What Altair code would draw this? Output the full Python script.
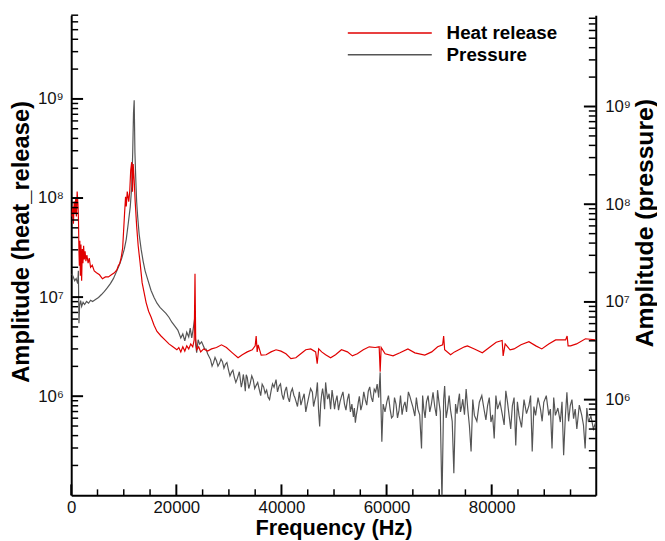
import altair as alt
import pandas as pd

# ---------------- data ----------------
HR_FREQ = [100, 280, 420, 570, 720, 850, 980, 1130, 1280, 1380, 1470, 1550, 1640, 1740, 1850, 1980,
           2110, 2230, 2360, 2490, 2640, 2790, 2980, 3210, 3430, 3680, 4000, 4380, 4810, 5380, 5940,
           6510, 7080, 7640, 8210, 8680, 8960, 9250, 9530, 9780, 9960, 10150, 10340, 10470, 10660,
           10940, 11130, 11320, 11510, 11660, 11790, 11980, 12170, 12450, 12740, 13110, 13490, 13870,
           14250, 14720, 15190, 15760, 16320, 17080, 17830, 18590, 19340, 20100, 20470, 20850, 21230,
           21610, 21980, 22360, 22740, 23120, 23400, 23550, 23680, 23870, 24250, 24630, 25190, 25950,
           26700, 27640, 28590, 29530, 30660, 31740, 32550, 33490, 34440, 35000, 35190, 35380, 35570,
           36140, 37080, 38020, 38970, 39910, 40850, 41800, 42740, 43680, 44630, 45570, 46510, 46800,
           47080, 47650, 48400, 49350, 50290, 51420, 52550, 53500, 54440, 55570, 56700, 57840, 58590,
           58780, 58970, 59720, 61230, 62550, 64060, 65380, 67270, 68590, 69720, 70670, 70860, 71050,
           72180, 72930, 74820, 75390, 76710, 78220, 79540, 80860, 81990, 82180, 82560, 83500, 84250,
           85570, 87080, 88400, 89530, 90850, 92170, 94060, 94350, 94540, 95010, 96140, 97840, 99730]
HR_AMP = [6.5e7, 8.2e7, 5.5e7, 9.2e7, 7.0e7, 9.8e7, 6.5e7, 1.16e8, 8.6e7, 6.1e7, 2.9e7, 2.07e7, 3.7e7,
          1.64e7, 3.4e7, 1.46e7, 3.05e7, 2.2e7, 3.3e7, 2.4e7, 2.9e7, 2.3e7, 2.66e7, 2.2e7, 2.48e7, 2.0e7,
          2.1e7, 1.84e7, 1.76e7, 1.68e7, 1.53e7, 1.6e7, 1.6e7, 1.68e7, 1.76e7, 1.88e7, 2.07e7, 2.2e7,
          2.54e7, 3.1e7, 4.6e7, 7.0e7, 1.03e8, 8.2e7, 1.16e8, 9.2e7, 1.16e8, 1.91e8, 2.3e8, 1.16e8,
          2.2e8, 1.52e8, 9.2e7, 5.2e7, 3.3e7, 2.2e7, 1.4e7, 1.11e7, 8.8e6, 7.2e6, 6.3e6, 5.2e6, 4.5e6,
          4.05e6, 3.7e6, 3.37e6, 3.15e6, 2.94e6, 3.1e6, 2.8e6, 3.15e6, 2.85e6, 3.22e6, 3.0e6, 3.37e6,
          3.15e6, 3.7e6, 1.72e7, 3.85e6, 2.94e6, 3.15e6, 2.8e6, 3.0e6, 2.85e6, 3.0e6, 3.1e6, 3.3e6,
          3.1e6, 2.74e6, 2.44e6, 2.62e6, 2.8e6, 2.94e6, 3.22e6, 4.05e6, 2.8e6, 3.3e6, 2.6e6, 2.62e6,
          2.8e6, 2.94e6, 2.85e6, 2.68e6, 2.39e6, 2.44e6, 2.68e6, 2.94e6, 3.0e6, 2.8e6, 2.13e6, 3.0e6,
          2.8e6, 2.62e6, 2.44e6, 2.62e6, 2.94e6, 2.8e6, 2.55e6, 2.68e6, 2.94e6, 3.15e6, 3.1e6, 3.15e6,
          1.77e6, 3.1e6, 2.68e6, 2.55e6, 2.74e6, 3.0e6, 2.74e6, 2.6e6, 2.8e6, 3.15e6, 3.3e6, 4.05e6,
          2.94e6, 2.62e6, 2.8e6, 3.15e6, 3.22e6, 3.0e6, 2.74e6, 3.1e6, 3.5e6, 3.65e6, 2.55e6, 3.37e6,
          2.94e6, 3.0e6, 3.3e6, 3.55e6, 3.22e6, 3.0e6, 3.37e6, 3.7e6, 3.7e6, 4.05e6, 3.22e6, 3.22e6,
          3.37e6, 3.8e6, 3.7e6]

P_FREQ = [100, 380, 660, 940, 1230, 1360, 1470, 1600, 1790, 1980, 2260, 2550, 2920, 3300, 3680, 4060,
          4620, 5190, 5760, 6320, 6890, 7450, 8020, 8590, 9150, 9620, 10100, 10470, 10850, 11230, 11510,
          11700, 11850, 11980, 12120, 12270, 12450, 12640, 12930, 13300, 13680, 14060, 14620, 15190,
          15760, 16320, 16890, 17450, 18020, 18590, 19150, 19720, 20280, 20850, 21230, 21610, 21980,
          22360, 22640, 22930, 23210, 23490, 23680, 23870, 24150, 24440, 24810, 25380, 25950, 26510,
          27080, 27640, 28210, 28780, 29340, 29910, 30480, 31040, 31610, 31990, 32360, 32740, 33120,
          33490, 34060, 34630, 35190, 35760, 36330, 36890, 37460, 38020, 38590, 38970, 39530, 40100,
          40660, 41230, 41800, 42360, 42740, 44000, 44630, 45190, 45890, 46330, 46840, 47270, 47650,
          48020, 48400, 48780, 49350, 49910, 50290, 50860, 51420, 51990, 52550, 53120, 53690, 54060,
          54440, 54820, 55380, 55950, 56520, 57080, 57650, 58210, 58780, 59100, 59350, 60050, 60670,
          61230, 61800, 62370, 63500, 64440, 65010, 65380, 65950, 66650, 67080, 67590, 68220, 68840,
          69480, 69910, 70540, 70860, 71050, 71610, 72180, 72800, 73120, 73690, 74060, 74500, 75140,
          75760, 76080, 76710, 77650, 78590, 79220, 79860, 80480, 81110, 82050, 82690, 83310, 83940,
          84580, 85200, 86150, 87080, 87710, 88350, 89290, 89910, 90860, 91480, 92120, 93060, 93690,
          94310, 94950, 95580, 96200, 97140, 97780, 98410, 99350, 99820]
P_AMP = [1.94e7, 1.81e7, 1.65e7, 1.73e7, 1.54e7, 2.08e7, 6.06e6, 9.2e6, 1.03e7, 9.0e6, 9.9e6, 9.4e6,
         1.01e7, 9.7e6, 1.04e7, 1.01e7, 1.06e7, 1.11e7, 1.19e7, 1.28e7, 1.4e7, 1.54e7, 1.73e7, 2.03e7,
         2.39e7, 2.81e7, 3.47e7, 4.37e7, 6.35e7, 9.4e7, 1.5e8, 3.4e8, 8.6e8, 1.16e9, 3.4e8, 1.9e8,
         1.06e8, 7.5e7, 4.9e7, 3.47e7, 2.62e7, 2.08e7, 1.65e7, 1.31e7, 1.11e7, 9.7e6, 8.8e6, 8.2e6,
         7.65e6, 6.97e6, 6.2e6, 5.66e6, 5.15e6, 4.28e6, 4.7e6, 3.99e6, 4.9e6, 4.38e6, 5.4e6, 4.28e6,
         5.3e6, 6.8e6, 3.64e6, 3.02e6, 4.1e6, 3.7e6, 3.9e6, 3.31e6, 2.95e6, 2.57e6, 2.39e6, 2.5e6,
         2.35e6, 2.45e6, 2.3e6, 2.03e6, 1.9e6, 1.69e6, 1.65e6, 1.93e6, 1.34e6, 1.81e6, 1.22e6, 1.69e6,
         1.47e6, 1.6e6, 1.4e6, 1.28e6, 1.44e6, 1.16e6, 1.06e6, 1.22e6, 1.34e6, 1.6e6, 1.37e6, 1.13e6,
         1.22e6, 1.06e6, 1.19e6, 1.11e6, 9.7e5, 1.01e6, 7.5e5, 1.06e6, 1.19e6, 9.7e5, 1.5e6, 5.3e5,
         1.13e6, 1.08e6, 1.5e6, 1.01e6, 8.0e5, 9.7e5, 9.5e5, 7.8e5, 1.08e6, 9.0e5, 1.0e6, 7.5e5,
         6.65e5, 5.8e5, 8.0e5, 1.08e6, 9.0e5, 1.0e6, 1.22e6, 1.06e6, 1.28e6, 1.44e6, 1.9e6, 3.7e5,
         9.0e5, 9.5e5, 8.0e5, 6.8e5, 9.0e5, 7.8e5, 9.5e5, 1.08e6, 8.4e5, 6.8e5, 8.0e5, 3.16e5, 8.0e5,
         9.5e5, 7.5e5, 1.19e6, 6.8e5, 1.0e6, 9.0e4, 1.0e6, 1.38e6, 8.0e5, 7.8e5, 1.77e5, 9.0e5, 1.0e6,
         7.5e5, 1.01e6, 1.28e6, 5.4e5, 2.95e5, 6.9e5, 9.4e5, 7.7e5, 8.7e5, 5.9e5, 4.0e5, 8.0e5, 6.9e5,
         1.23e6, 6.9e5, 8.7e5, 3.4e5, 6.9e5, 1.0e6, 8.7e5, 2.95e5, 6.9e5, 8.0e5, 9.4e5, 6.9e5, 3.16e5,
         6.9e5, 5.9e5, 2.7e5, 1.19e6, 8.7e5, 6.4e5, 5.0e5, 6.9e5, 3.16e5, 5.9e5, 5.0e5, 5.9e5]

# finer wiggles of the pressure spectrum, read between the points above
P_FREQ_FINE = [25650, 26800, 27360, 27920, 28500, 29060, 29620, 30200, 30760, 31320, 32550, 32930,
               33300, 33780, 34350, 34910, 35480, 36050, 36610, 37180, 37740, 38300, 39250, 39820,
               40380, 40950, 41520, 42080, 42550, 43050, 43400, 43700, 44320, 44910, 45540, 46110,
               46580, 47050, 47460, 47830, 48210, 48590, 49060, 49630, 50100, 50570, 51140, 51700,
               52270, 52830, 53400, 53870, 54250, 54630, 55100, 55660, 56230, 56800, 57360, 57930,
               58500, 59700, 60360, 60950, 61510, 62080, 62650, 62950, 63200, 63800, 64150, 64720,
               65670, 66300, 66860, 67330, 67900, 68530, 69160, 69700, 70220, 71330, 71900, 72490,
               73400, 73870, 74280, 74820, 75450, 76400, 77180, 78120, 78900, 79540, 80170, 80800,
               81580, 82370, 83000, 83620, 84260, 84890, 85680, 86620, 87400, 88030, 88820, 89600,
               90390, 91170, 91800, 92590, 93380, 94000, 94630, 95270, 95890, 96670, 97460, 98100,
               98880]
P_AMP_FINE = [3.3e6, 2.2e6, 2.7e6, 2.2e6, 2.6e6, 2.1e6, 2.4e6, 1.75e6, 2.0e6, 1.5e6, 1.5e6, 1.55e6,
              1.8e6, 1.3e6, 1.75e6, 1.3e6, 1.5e6, 1.1e6, 1.35e6, 1.25e6, 1.0e6, 1.45e6, 1.2e6, 1.45e6,
              1.0e6, 1.35e6, 9.5e5, 1.3e6, 1.05e6, 8.5e5, 1.2e6, 8.8e5, 1.15e6, 9.0e5, 1.3e6, 8.5e5,
              1.1e6, 8.0e5, 9.0e5, 1.3e6, 8.0e5, 1.2e6, 1.15e6, 1.25e6, 8.0e5, 1.1e6, 9.5e5, 1.2e6,
              7.8e5, 1.15e6, 9.0e5, 8.2e5, 7.0e5, 9.5e5, 7.8e5, 1.2e6, 8.8e5, 1.35e6, 9.5e5, 1.2e6,
              1.05e6, 7.5e5, 1.1e6, 6.5e5, 1.05e6, 6.5e5, 1.1e6, 7.0e5, 8.5e5, 7.5e5, 1.2e6, 9.5e5,
              1.05e6, 7.0e5, 1.1e6, 6.5e5, 1.1e6, 9.0e5, 8.5e5, 1.25e6, 7.5e5, 6.5e5, 1.1e6, 6.0e5,
              7.2e5, 1.15e6, 8.5e5, 7.0e5, 8.0e5, 1.0e6, 6.0e5, 1.1e6, 6.2e5, 1.05e6, 7.0e5, 1.1e6,
              9.5e5, 5.5e5, 9.5e5, 5.0e5, 1.05e6, 9.5e5, 5.2e5, 7.2e5, 1.1e6, 8.5e5, 1.05e6, 6.0e5,
              1.1e6, 8.0e5, 1.05e6, 8.2e5, 9.5e5, 6.5e5, 6.0e5, 1.0e6, 8.0e5, 8.8e5, 5.5e5, 8.2e5,
              6.8e5]

SERIES = ["Heat release", "Pressure"]
COLORS = ["#e00000", "#555555"]

X_LABELS = [0, 20000, 40000, 60000, 80000]
X_MINOR = [5000, 10000, 15000, 25000, 30000, 35000, 45000, 50000, 55000,
           65000, 70000, 75000, 85000, 90000, 95000]
Y_MAJOR = [1e6, 1e7, 1e8, 1e9]
Y_MINOR_L = [k * 10.0 ** e for e in range(5, 10) for k in range(2, 10) if k * 10.0 ** e <= 7e9]
Y_MINOR_R = [k * 10.0 ** e for e in range(5, 10) for k in range(2, 10) if k * 10.0 ** e <= 8.6e9]

# ---------------- layout / style ----------------
W, H = 531, 486
FONT = "Liberation Sans"

x_scale = alt.Scale(domain=[0, 99800], nice=False, zero=False)
yl_scale = alt.Scale(type="log", domain=[1e5, 7e9], nice=False)
yr_scale = alt.Scale(type="log", domain=[1.05e5, 8.6e9], nice=False)

lab_expr = ("datum.value > 5e8 ? '10\u2079' : datum.value > 5e7 ? '10\u2078' : "
            "datum.value > 5e6 ? '10\u2077' : '10\u2076'")

common = dict(ticks=False, grid=False, domainColor="black", domainWidth=2,
              labelFont=FONT, labelFontSize=17, labelColor="#111111",
              labelFlush=False, labelOverlap=False,
              titleFont=FONT, titleFontWeight="bold", titleColor="black")

x_axis = alt.Axis(orient="bottom", values=X_LABELS, format="d", labelPadding=4,
                  title="Frequency (Hz)", titleFontSize=22, titlePadding=3, **common)
yl_axis = alt.Axis(orient="left", values=Y_MAJOR, labelExpr=lab_expr, labelPadding=8,
                   title="Amplitude (heat_release)", titleFontSize=24, titlePadding=4,
                   titleY=229, **common)
yr_axis = alt.Axis(orient="right", values=Y_MAJOR, labelExpr=lab_expr, labelPadding=9,
                   title="Amplitude (pressure)", titleAngle=270, titleBaseline="top",
                   titleFontSize=25, titlePadding=2, titleY=210, **common)

hr_df = pd.DataFrame({"f": HR_FREQ, "a": HR_AMP})
p_df = pd.concat([pd.DataFrame({"f": P_FREQ, "a": P_AMP}),
                  pd.DataFrame({"f": P_FREQ_FINE, "a": P_AMP_FINE})]).sort_values("f")


def X(field):
    return alt.X(field, scale=x_scale, axis=x_axis)


gray = alt.Chart(p_df).mark_line(color=COLORS[1], strokeWidth=1.2, clip=True).encode(
    x=X("f:Q"),
    y=alt.Y("a:Q", scale=yr_scale, axis=yr_axis),
)
red = alt.Chart(hr_df).mark_line(color=COLORS[0], strokeWidth=1.2, clip=True).encode(
    x=X("f:Q"),
    y=alt.Y("a:Q", scale=yl_scale, axis=yl_axis),
)


def xticks(vals, length, sw):
    return alt.Chart(pd.DataFrame({"f": vals})).mark_rule(color="black", strokeWidth=sw).encode(
        x=X("f:Q"),
        y=alt.value(H), y2=alt.value(H - length))


def yticks(vals, scale, x0, x1, sw):
    return alt.Chart(pd.DataFrame({"v": vals})).mark_rule(color="black", strokeWidth=sw).encode(
        y=alt.Y("v:Q", scale=scale, axis=None),
        x=alt.value(x0), x2=alt.value(x1))


def leg_line(y, color):
    return alt.Chart(alt.Data(values=[{}])).mark_rule(color=color, strokeWidth=1.5).encode(
        x=alt.value(280), x2=alt.value(365), y=alt.value(y))


def leg_text(y, txt):
    return alt.Chart(alt.Data(values=[{}])).mark_text(
        align="left", baseline="middle", font=FONT, fontSize=19, fontWeight="bold",
        color="black").encode(x=alt.value(380), y=alt.value(y), text=alt.value(txt))


layers = [
    gray, red,
    xticks(X_LABELS, 11, 2), xticks(X_MINOR, 6, 1.5),
    yticks(Y_MAJOR, yl_scale, 0, 12, 2), yticks(Y_MINOR_L, yl_scale, 0, 7, 1.5),
    yticks(Y_MAJOR, yr_scale, W, W - 12, 2), yticks(Y_MINOR_R, yr_scale, W, W - 7, 1.5),
    leg_line(18, COLORS[0]), leg_text(18, SERIES[0]),
    leg_line(40, COLORS[1]), leg_text(40, SERIES[1]),
]

chart = alt.layer(*layers).resolve_scale(y="independent").properties(
    width=W, height=H,
    padding={"left": 64, "top": 4, "right": 62, "bottom": 43},
    autosize=alt.AutoSizeParams(type="none"),
).configure_view(stroke=None)

chart.save("out.html", embed_options={"renderer": "svg", "actions": False})
